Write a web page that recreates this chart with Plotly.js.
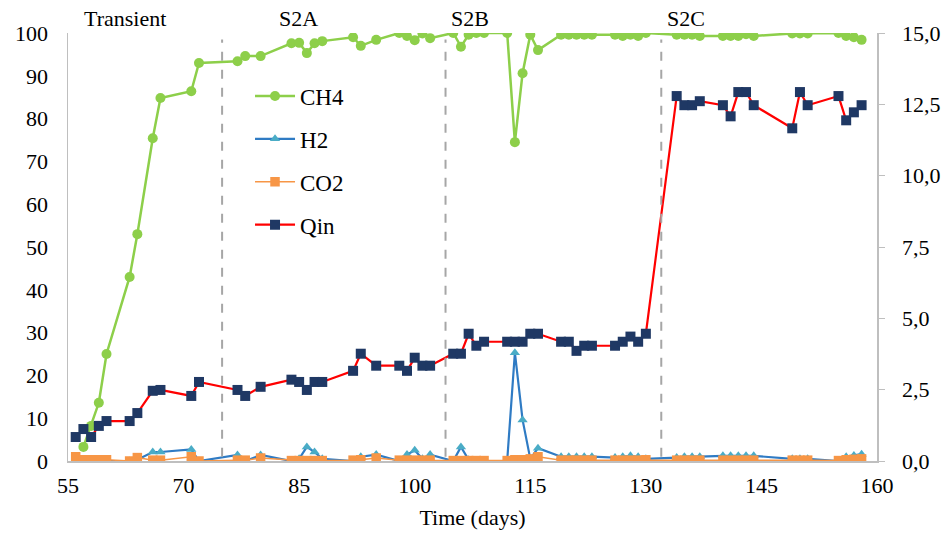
<!DOCTYPE html>
<html>
<head>
<meta charset="utf-8">
<script src="https://cdn.plot.ly/plotly-3.0.1.min.js"></script>
<style>html,body{margin:0;padding:0;background:#fff;}#chart{width:948px;height:533px;}</style>
</head>
<body>
<div id="chart"></div>
<script>
// Sampling days (shared by the gas series)
const days = [56,57,58,59,60,63,64,66,67,71,72,77,78,80,84,85,86,87,88,92,93,95,98,99,100,101,102,105,106,107,108,109,112,113,114,115,116,119,120,121,122,123,126,127,128,129,130,134,135,136,137,140,141,142,143,144,149,150,151,155,156,157,158];

// CH4 (%) – first sample without CH4 reading
const ch4Days = [57,58,59,60,63,64,66,67,71,72,77,78,80,84,85,86,87,88,92,93,95,98,99,100,101,102,105,106,107,108,109,112,113,114,115,116,119,120,121,122,123,126,127,128,129,130,134,135,136,137,140,141,142,143,144,149,150,151,155,156,157,158];
const ch4 = [3.3,8.2,13.6,25,43,53,75.4,84.8,86.4,93,93.4,94.6,94.6,97.6,97.7,95.3,97.6,98.1,99,97,98.4,100,99.3,98.3,99.9,98.8,100,96.8,99.6,100,100,100,74.5,90.6,99.6,96,99.6,99.6,99.6,99.6,99.6,99.6,99.3,99.6,99.3,100,99.6,99.6,99.6,99.3,99.3,99.3,99.3,99.7,99.3,99.9,99.9,99.9,100,99.3,99,98.4];

// H2 (%)
const h2 = [0,0,0,0,0,0,0.3,2.1,2.1,2.7,0,1.4,0,1.4,0,0.5,3.3,2.1,0.5,0,1,1.5,0,1.5,2.5,0.5,1.5,0,3.3,0.3,0,0,0,25.3,9.6,0.5,3,1,1,1,1,1,0.8,1,1.2,1,0.5,0.8,1,1,1,1.2,1.2,1.2,1.2,1.2,0.5,0.5,0.5,0,1,1.3,1.6];

// CO2 (%)
const co2 = [1,0.3,0.3,0.3,0.3,0,0.8,0.2,0.2,1,0,0.2,0.2,0.7,0.1,0.1,0.1,0.1,0.1,0.2,0.3,0.7,0.2,0.2,0.2,0.2,0.2,0.1,0.1,0.1,0.1,0.1,0.1,0.3,0.3,0.5,1,0.2,0.2,0.2,0.2,0.2,0.2,0.2,0.2,0.2,0.3,0.2,0.2,0.2,0.2,0.2,0.2,0.2,0.2,0.2,0.2,0.2,0.2,0.1,0.3,0.4,0.5];

// Qin (right axis)
const qin = [0.84,1.12,0.84,1.23,1.40,1.40,1.68,2.46,2.49,2.28,2.77,2.49,2.28,2.60,2.85,2.77,2.49,2.77,2.77,3.16,3.76,3.34,3.34,3.16,3.62,3.34,3.34,3.76,3.76,4.46,4.04,4.18,4.18,4.18,4.18,4.46,4.46,4.18,4.18,3.86,4.04,4.04,4.04,4.18,4.36,4.18,4.46,12.79,12.47,12.47,12.61,12.47,12.08,12.93,12.93,12.47,11.66,12.93,12.47,12.79,11.94,12.22,12.47];

// Stage boundaries and labels
const stageLines = [75,104,132];
const stageNames = ["Transient","S2A","S2B","S2C"];
const stageLabelX = [62.4,84.9,107.2,135.2];

const xTicks = [55,70,85,100,115,130,145,160];

const FONT = "Liberation Serif, Times New Roman, serif";

const traces = [
  {x: ch4Days, y: ch4, name: "CH4", legendgroup:"a", mode: "lines+markers",
   line: {color: "#8DCF4A", width: 2.5}, marker: {symbol: "circle", size: 10, color: "#8DCF4A"}},
  {x: days, y: h2, name: "H2", legendgroup:"b", mode: "lines+markers",
   line: {color: "#2F7BC4", width: 2.2}, marker: {symbol: "triangle-up", size: 9, color: "#4AACC6"}},
  {x: days, y: co2, name: "CO2", legendgroup:"c", mode: "lines+markers",
   line: {color: "#F79646", width: 1.5}, marker: {symbol: "square", size: 9.5, color: "#F79646"}},
  {x: days, y: qin, name: "Qin", legendgroup:"d", yaxis: "y2", mode: "lines+markers",
   line: {color: "#FF0000", width: 2.2}, marker: {symbol: "square", size: 10, color: "#1F3864"}}
];

const shapes = stageLines.map(v => ({
  type: "line", xref: "x", yref: "paper", x0: v, x1: v, y0: 0.01, y1: 0.985,
  line: {color: "#A6A6A6", width: 2, dash: "dash"}
}));

const annotations = stageNames.map((t, i) => ({
  text: t, x: stageLabelX[i], xref: "x", y: 1, yref: "paper",
  yanchor: "bottom", yshift: 0, showarrow: false,
  font: {family: FONT, size: 22, color: "#000"}
}));

const layout = {
  width: 948, height: 533,
  margin: {l: 68, r: 71, t: 33, b: 72},
  paper_bgcolor: "#fff", plot_bgcolor: "#fff",
  separators: ", ",
  font: {family: FONT, size: 21, color: "#000"},
  showlegend: true,
  legend: {x: 0.225, y: 0.903, xanchor: "left", yanchor: "top",
           font: {family: FONT, size: 23, color: "#000"},
           tracegroupgap: 10, bgcolor: "rgba(255,255,255,0)", itemwidth: 40},
  xaxis: {range: [55,160], tickmode: "array", tickvals: xTicks,
          showline: true, linecolor: "#BFBFBF", linewidth: 1.5,
          showgrid: false, zeroline: false, ticks: "", ticklabelstandoff: 4,
          tickfont: {family: FONT, size: 22},
          title: {text: "Time (days)", font: {family: FONT, size: 22}, standoff: 12}},
  yaxis: {range: [0,100], dtick: 10, tick0: 0,
          showline: true, linecolor: "#BFBFBF", linewidth: 1.5,
          showgrid: false, zeroline: false, ticks: "", ticklabelstandoff: 14,
          tickfont: {family: FONT, size: 22}},
  yaxis2: {range: [0,15], dtick: 2.5, tick0: 0, tickformat: ".1f",
           overlaying: "y", side: "right",
           showline: true, linecolor: "#BFBFBF", linewidth: 1.5,
           showgrid: false, zeroline: false, ticks: "outside", ticklen: 6, tickcolor: "#BFBFBF",
           ticklabelstandoff: 13,
           tickfont: {family: FONT, size: 22}},
  shapes: shapes,
  annotations: annotations
};

Plotly.newPlot("chart", traces, layout, {displayModeBar: false, staticPlot: true});
</script>
</body>
</html>
